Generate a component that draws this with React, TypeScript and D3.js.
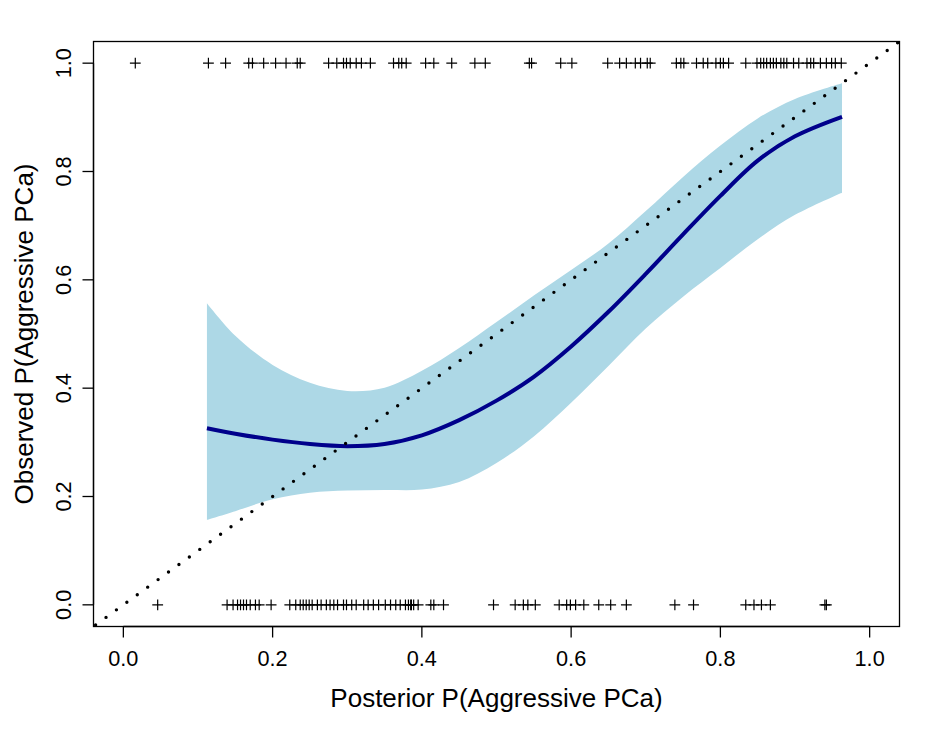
import React from "react";
import * as d3 from "d3";

// Observed outcomes (rug of crosses): posterior probability for cases with outcome 1 and 0
const eventsPositive: number[] = [
  0.016, 0.114, 0.137, 0.168, 0.173, 0.188, 0.204, 0.218, 0.233, 0.237,
  0.275, 0.286, 0.295, 0.299, 0.304, 0.312, 0.319, 0.331, 0.362, 0.369,
  0.373, 0.379, 0.405, 0.416, 0.44, 0.471, 0.485, 0.544, 0.547, 0.586,
  0.601, 0.649, 0.665, 0.674, 0.686, 0.693, 0.702, 0.706, 0.741, 0.747,
  0.751, 0.768, 0.777, 0.783, 0.794, 0.8, 0.804, 0.811, 0.834, 0.849,
  0.854, 0.858, 0.862, 0.867, 0.871, 0.875, 0.881, 0.885, 0.889, 0.898,
  0.905, 0.916, 0.921, 0.925, 0.934, 0.942, 0.949, 0.954, 0.962,
];
const eventsNegative: number[] = [
  0.046, 0.139, 0.147, 0.153, 0.157, 0.161, 0.165, 0.17, 0.177, 0.182,
  0.198, 0.223, 0.231, 0.237, 0.241, 0.245, 0.249, 0.253, 0.26, 0.265,
  0.272, 0.277, 0.282, 0.287, 0.295, 0.299, 0.306, 0.312, 0.322, 0.328,
  0.335, 0.342, 0.351, 0.358, 0.365, 0.371, 0.378, 0.382, 0.385, 0.386,
  0.389, 0.395, 0.412, 0.416, 0.429, 0.496, 0.525, 0.536, 0.542, 0.552,
  0.584, 0.594, 0.599, 0.606, 0.617, 0.637, 0.653, 0.674, 0.739, 0.764,
  0.834, 0.845, 0.855, 0.867, 0.94, 0.942,
];

// Smoothed calibration curve and its confidence band
const curveX: number[] = [0.112, 0.15, 0.2, 0.25, 0.3, 0.35, 0.4, 0.45, 0.5, 0.55, 0.6, 0.65, 0.7, 0.75, 0.8, 0.85, 0.9, 0.963];
const curveFit: number[] = [0.326, 0.316, 0.305, 0.297, 0.293, 0.297, 0.313, 0.341, 0.377, 0.421, 0.477, 0.541, 0.611, 0.684, 0.755, 0.820, 0.865, 0.901];
const curveUpper: number[] = [0.557, 0.497, 0.443, 0.41, 0.395, 0.401, 0.432, 0.474, 0.522, 0.571, 0.618, 0.667, 0.727, 0.79, 0.848, 0.898, 0.934, 0.963];
const curveLower: number[] = [0.157, 0.173, 0.195, 0.207, 0.211, 0.212, 0.213, 0.227, 0.262, 0.311, 0.373, 0.441, 0.51, 0.569, 0.622, 0.675, 0.72, 0.761];

const ticks: number[] = [0, 0.2, 0.4, 0.6, 0.8, 1.0];
const tickLabels: string[] = ["0.0", "0.2", "0.4", "0.6", "0.8", "1.0"];

const xTitle = "Posterior P(Aggressive PCa)";
const yTitle = "Observed P(Aggressive PCa)";

const W = 941;
const H = 732;
const margin = { left: 93.5, right: 41.5, top: 41.5, bottom: 105.5 };
const FONT = "'Liberation Sans', Arial, Helvetica, sans-serif";
const FS = 21.7;
const FS_LAB = 26;

export default function App() {
  const x = d3.scaleLinear().domain([-0.04, 1.04]).range([margin.left, W - margin.right]);
  const y = d3.scaleLinear().domain([-0.04, 1.04]).range([H - margin.bottom, margin.top]);

  const pts = curveX.map((v, i) => ({ x: v, fit: curveFit[i], lo: curveLower[i], hi: curveUpper[i] }));

  const smooth = d3.curveCatmullRom.alpha(0.5);
  const area = d3
    .area<any>()
    .x((d) => x(d.x))
    .y0((d) => y(d.lo))
    .y1((d) => y(d.hi))
    .curve(smooth);
  const line = d3
    .line<any>()
    .x((d) => x(d.x))
    .y((d) => y(d.fit))
    .curve(smooth);

  const diag = d3
    .line<number>()
    .x((d) => x(d))
    .y((d) => y(d));
  const diagDomain = x.domain();

  const plus = "M-5.4,0H5.4M0,-5.4V5.4";
  const x0 = margin.left;
  const x1 = W - margin.right;
  const y0 = H - margin.bottom;
  const y1 = margin.top;

  return (
    <svg
      width={W}
      height={H}
      style={{ position: "absolute", left: 0, top: 0, background: "#fff" }}
      fontFamily={FONT}
    >
      <defs>
        <clipPath id="plotclip">
          <rect x={x0} y={y1} width={x1 - x0} height={y0 - y1} />
        </clipPath>
      </defs>
      <rect x={0} y={0} width={W} height={H} fill="#fff" />
      <g clipPath="url(#plotclip)">
        <path d={area(pts) || ""} fill="#ADD8E6" stroke="none" />
        <path d={line(pts) || ""} fill="none" stroke="#00008B" strokeWidth={4} />
        <path
          d={diag(diagDomain) || ""}
          fill="none"
          stroke="#000"
          strokeWidth={3.4}
          strokeLinecap="round"
          strokeDasharray="0 12.87"
          strokeDashoffset={-2.6}
        />
        {eventsPositive.map((v, i) => (
          <path key={"p" + i} d={plus} transform={`translate(${x(v)},${y(1)})`} stroke="#000" strokeWidth={1.2} fill="none" />
        ))}
        {eventsNegative.map((v, i) => (
          <path key={"n" + i} d={plus} transform={`translate(${x(v)},${y(0)})`} stroke="#000" strokeWidth={1.2} fill="none" />
        ))}
      </g>
      <rect x={x0} y={y1} width={x1 - x0} height={y0 - y1} fill="none" stroke="#000" strokeWidth={1.3} />
      {/* x axis */}
      <line x1={x(ticks[0])} x2={x(ticks[ticks.length - 1])} y1={y0} y2={y0} stroke="#000" strokeWidth={1.3} />
      {ticks.map((t, i) => (
        <g key={"xt" + i}>
          <line x1={x(t)} x2={x(t)} y1={y0} y2={y0 + 11} stroke="#000" strokeWidth={1.3} />
          <text x={x(t)} y={665.5} textAnchor="middle" fontSize={FS} fill="#000">
            {tickLabels[i]}
          </text>
        </g>
      ))}
      {/* y axis */}
      <line x1={x0} x2={x0} y1={y(ticks[0])} y2={y(ticks[ticks.length - 1])} stroke="#000" strokeWidth={1.3} />
      {ticks.map((t, i) => (
        <g key={"yt" + i}>
          <line x1={x0} x2={x0 - 11} y1={y(t)} y2={y(t)} stroke="#000" strokeWidth={1.3} />
          <text transform={`translate(71,${y(t)}) rotate(-90)`} textAnchor="middle" fontSize={FS} fill="#000">
            {tickLabels[i]}
          </text>
        </g>
      ))}
      <text x={(x0 + x1) / 2} y={707} textAnchor="middle" fontSize={FS_LAB} fill="#000">
        {xTitle}
      </text>
      <text transform={`translate(32.5,${(y0 + y1) / 2}) rotate(-90)`} textAnchor="middle" fontSize={FS_LAB} fill="#000">
        {yTitle}
      </text>
    </svg>
  );
}
